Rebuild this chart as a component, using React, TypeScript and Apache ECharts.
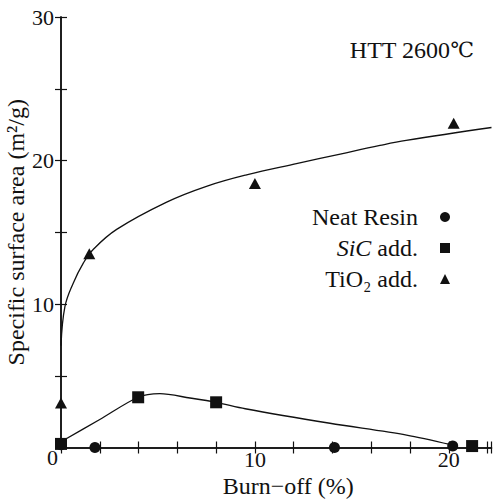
import React, { useEffect, useRef } from "react";
import * as echarts from "echarts";

// Marker data: [burn-off %, surface area m2/g]
const neatResin: number[][] = [[0, 0.2], [1.75, 0], [14.1, 0], [20.2, 0.1]];
const sicAdd: number[][] = [[0, 0.25], [3.98, 3.5], [8.0, 3.15], [21.2, 0.1]];
const tio2Add: number[][] = [[0, 3.1], [1.46, 13.5], [10.0, 18.4], [20.25, 22.6]];

// Fitted curves
const tio2Curve: number[][] = [
  [0, 7.1], [0.2, 9.8], [0.63, 11.45], [1.15, 12.85], [1.66, 13.8], [2.87, 15.2],
  [5.45, 17.1], [7.5, 18.2], [9.57, 19.0], [12.2, 19.8], [14.4, 20.45], [16.45, 21.05],
  [17.8, 21.4], [22.2, 22.3],
];
const sicCurve: number[][] = [
  [0, 0.4], [2.0, 1.95], [3.98, 3.5], [5.1, 3.75], [6.65, 3.45], [8.0, 3.15], [9.5, 2.7],
  [13.87, 1.69], [17.82, 0.87], [20.1, 0.2],
];

const xLabels = [10, 20];
const yLabels = [0, 10, 20, 30];

const FONT = "Liberation Serif";
const INK = "#111";

export default function App() {
  const ref = useRef<HTMLDivElement>(null);
  useEffect(() => {
    if (!ref.current) return;
    const chart = echarts.init(ref.current, null, { renderer: "svg" });
    const axisCommon = {
      axisLine: { show: true, lineStyle: { color: INK, width: 1.5 } },
      axisTick: { show: true, inside: true, length: 6, lineStyle: { color: INK, width: 1.2 } },
      splitLine: { show: false },
    };
    chart.setOption({
      animation: false,
      backgroundColor: "#fff",
      title: {
        text: "{a|HTT 2600}{b|℃}",
        right: 14,
        top: 33,
        textStyle: {
          fontFamily: FONT,
          fontSize: 24,
          fontWeight: "normal",
          color: INK,
          rich: {
            a: { fontFamily: FONT, fontSize: 24, color: INK },
            b: { fontFamily: "DejaVu Serif", fontSize: 21, color: INK },
          },
        },
      },
      grid: { left: 61, right: 1.5, top: 17, bottom: 54.5, containLabel: false, outerBoundsMode: "none" },
      legend: {
        orient: "vertical",
        align: "right",
        right: 38,
        top: 200,
        itemWidth: 10,
        itemHeight: 10,
        itemGap: 7,
        data: ["Neat Resin", "SiC add.", "TiO₂ add."],
        formatter: (name: string) => {
          if (name === "SiC add.") return "{i|SiC}{t| add.}";
          return "{t|" + name + "}";
        },
        textStyle: {
          fontFamily: FONT,
          fontSize: 24,
          color: INK,
          padding: [0, 17, 0, 0],
          rich: {
            t: { fontFamily: FONT, fontSize: 24, color: INK, lineHeight: 24 },
            i: { fontFamily: FONT, fontSize: 24, color: INK, fontStyle: "italic", lineHeight: 24 },
          },
        },
      },
      xAxis: [
        {
          type: "value",
          position: "bottom",
          min: 0,
          max: 22.2,
          interval: 2,
          ...axisCommon,
          axisLabel: {
            margin: 3,
            fontFamily: FONT,
            fontSize: 22,
            lineHeight: 18,
            color: INK,
            formatter: (v: number) => (xLabels.includes(v) ? String(v) : ""),
          },
          name: "Burn−off (%)",
          nameLocation: "middle",
          nameGap: 28,
          nameMoveOverlap: false,
          nameTextStyle: { fontFamily: FONT, fontSize: 24, lineHeight: 20, color: INK, padding: [0, 0, 0, 24] },
        },
        {
          type: "value",
          position: "top",
          min: 0,
          max: 22.2,
          interval: 2,
          ...axisCommon,
          axisLabel: { show: false },
        },
      ],
      yAxis: [
        {
          type: "value",
          position: "left",
          min: 0,
          max: 30,
          interval: 5,
          ...axisCommon,
          axisLabel: {
            margin: 7,
            fontFamily: FONT,
            fontSize: 22,
            color: INK,
            formatter: (v: number) =>
              yLabels.includes(v) ? (v === 0 ? "{z|0}" : String(v)) : "",
            rich: { z: { fontFamily: FONT, fontSize: 22, color: INK, padding: [20, -4, 0, 0] } },
          },
          name: "Specific surface area (m²/g)",
          nameLocation: "middle",
          nameGap: 33,
          nameMoveOverlap: false,
          nameTextStyle: { fontFamily: FONT, fontSize: 24, color: INK },
        },
        {
          type: "value",
          position: "right",
          min: 0,
          max: 30,
          interval: 5,
          ...axisCommon,
          axisLabel: { show: false },
        },
      ],
      series: [
        {
          name: "TiO₂ curve",
          type: "line",
          data: tio2Curve,
          smooth: 0.4,
          showSymbol: false,
          symbol: "none",
          lineStyle: { color: INK, width: 1.3 },
          z: 1,
        },
        {
          name: "SiC curve",
          type: "line",
          data: sicCurve,
          smooth: 0.3,
          showSymbol: false,
          symbol: "none",
          lineStyle: { color: INK, width: 1.3 },
          z: 1,
        },
        {
          name: "Neat Resin",
          type: "scatter",
          data: neatResin,
          symbol: "circle",
          symbolSize: 11,
          itemStyle: { color: INK, opacity: 1 },
          clip: false,
          z: 3,
        },
        {
          name: "SiC add.",
          type: "scatter",
          data: sicAdd,
          symbol: "rect",
          symbolSize: 12,
          itemStyle: { color: INK, opacity: 1 },
          clip: false,
          z: 3,
        },
        {
          name: "TiO₂ add.",
          type: "scatter",
          data: tio2Add,
          symbol: "triangle",
          symbolSize: [12, 11],
          itemStyle: { color: INK, opacity: 1 },
          clip: false,
          z: 3,
        },
      ],
    });
    return () => chart.dispose();
  }, []);
  return (
    <div
      ref={ref}
      style={{ position: "fixed", left: 0, top: 0, width: 493, height: 502, background: "#fff" }}
    />
  );
}
